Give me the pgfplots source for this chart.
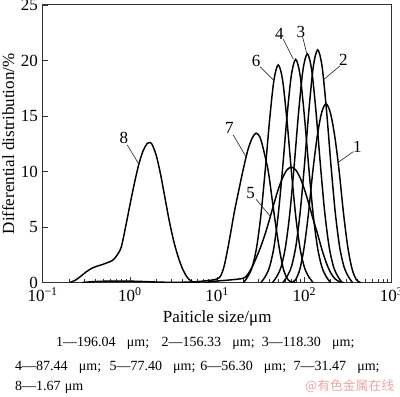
\documentclass[border=0pt]{standalone}
\usepackage{fontspec}
\setmainfont{Liberation Serif}
\newfontfamily\cjk{Noto Sans CJK SC}
\usepackage{pgfplots}
\pgfplotsset{compat=1.18}
\usepackage{pgfplotstable}
\definecolor{wm}{RGB}{236,165,165}

\pgfplotstableread{
lx y
1.847 0
1.897 0.25
1.947 1.2
1.997 3.2
2.047 6.3
2.097 10.1
2.147 13.2
2.197 15.3
2.247 16.1
2.297 15.3
2.347 13.2
2.397 10.1
2.447 6.3
2.497 3.2
2.547 1.2
2.597 0.25
2.647 0
}\curveA
\pgfplotstableread{
lx y
1.752 0
1.802 0.57
1.852 1.47
1.902 3.29
1.952 6.41
2.002 10.77
2.052 15.59
2.102 19.47
2.152 20.96
2.202 19.47
2.252 15.59
2.302 10.77
2.352 6.41
2.402 3.29
2.452 1.47
2.502 0.57
2.552 0
}\curveB
\pgfplotstableread{
lx y
1.633 0
1.683 0.56
1.733 1.44
1.783 3.23
1.833 6.30
1.883 10.59
1.933 15.33
1.983 19.14
2.033 20.6
2.083 19.14
2.133 15.33
2.183 10.59
2.233 6.30
2.283 3.23
2.333 1.44
2.383 0.56
2.433 0
}\curveC
\pgfplotstableread{
lx y
1.50 0
1.55 0.54
1.60 1.41
1.65 3.16
1.70 6.15
1.75 10.33
1.80 14.95
1.85 18.67
1.90 20.1
1.95 18.67
2.00 14.95
2.05 10.33
2.10 6.15
2.15 3.16
2.20 1.41
2.25 0.54
2.30 0
}\curveD
\pgfplotstableread{
lx y
0.85 0
1.00 0.15
1.15 0.25
1.30 0.4
1.35 0.75
1.40 1.4
1.45 2.28
1.50 3.25
1.55 4.4
1.60 5.7
1.65 7.1
1.70 8.4
1.75 9.45
1.80 10.15
1.849 10.4
1.90 10.15
1.95 9.45
2.00 8.4
2.05 7.1
2.10 5.7
2.15 4.4
2.20 3.0
2.25 1.8
2.30 0.9
2.35 0.35
2.40 0.1
2.45 0
}\curveE
\pgfplotstableread{
lx y
1.30 0
1.35 0.53
1.40 1.37
1.45 3.08
1.50 6.0
1.55 10.07
1.60 14.58
1.65 18.21
1.70 19.6
1.75 18.21
1.80 14.58
1.85 10.07
1.90 6.0
1.95 3.08
2.00 1.37
2.05 0.53
2.10 0
}\curveF
\pgfplotstableread{
lx y
-0.55 0
-0.45 0.08
-0.30 0.13
-0.10 0.15
0.10 0.12
0.30 0.06
0.50 0.03
0.70 0.06
0.85 0.15
0.95 0.25
1.00 0.35
1.04 0.6
1.08 1.5
1.12 3.0
1.166 5.0
1.20 6.5
1.25 8.4
1.293 10.0
1.35 11.9
1.40 13.0
1.445 13.46
1.49 13.1
1.53 12.0
1.586 10.0
1.63 7.5
1.674 5.0
1.72 2.7
1.76 1.2
1.80 0.4
1.84 0.1
1.90 0
}\curveG
\pgfplotstableread{
lx y
-0.69 0
-0.62 0.25
-0.56 0.6
-0.50 0.98
-0.44 1.28
-0.38 1.48
-0.32 1.62
-0.26 1.8
-0.20 2.0
-0.15 2.45
-0.10 3.2
-0.05 5.0
0.00 7.0
0.05 8.9
0.10 10.6
0.15 11.85
0.20 12.55
0.222 12.6
0.25 12.5
0.30 11.5
0.35 9.8
0.40 7.7
0.45 5.6
0.50 3.8
0.55 2.4
0.60 1.3
0.65 0.55
0.70 0.15
0.75 0.03
0.80 0
}\curveH

\newcommand\lab{\fontsize{12.75}{14}\selectfont}
\newcommand\itm[2]{#1—#2\hspace{0.8em}μm;}

\begin{document}
\begin{tikzpicture}
\useasboundingbox (-32pt,-85pt) rectangle (267.98pt,212pt);
\begin{axis}[
  at={(0pt,0pt)}, anchor=south west,
  scale only axis, width=261.75pt, height=208.3pt,
  xmode=log, xmin=0.1, xmax=1000, ymin=0, ymax=25,
  xtick={0.1,1,10,100,1000},
  xticklabels={10\textsuperscript{−1},10\textsuperscript{0},10\textsuperscript{1},10\textsuperscript{2},10\textsuperscript{3}},
  ytick={0,5,10,15,20,25},
  tick pos=left, tick align=inside,
  /pgf/number format/assume math mode=true,
  tick label style={font=\lab},
  label style={font=\lab},
  xlabel={Paiticle size/μm},
  ylabel={Differential distribution/\%},
  x label style={at={(axis description cs:0.5,-0.1426)},anchor=base},
  y label style={at={(axis description cs:-0.0821,0.5)},anchor=base},
  axis line style={black!80, line width=0.8pt},
  every tick/.style={black!80, line width=0.6pt},
  major tick length=4pt, minor tick length=2.5pt,
]
\addplot[black, line width=1.1pt, smooth] table[x expr=10^(\thisrow{lx}), y=y] {\curveA};
\addplot[black, line width=1.1pt, smooth] table[x expr=10^(\thisrow{lx}), y=y] {\curveB};
\addplot[black, line width=1.1pt, smooth] table[x expr=10^(\thisrow{lx}), y=y] {\curveC};
\addplot[black, line width=1.1pt, smooth] table[x expr=10^(\thisrow{lx}), y=y] {\curveD};
\addplot[black, line width=1.1pt, smooth] table[x expr=10^(\thisrow{lx}), y=y] {\curveE};
\addplot[black, line width=1.1pt, smooth] table[x expr=10^(\thisrow{lx}), y=y] {\curveF};
\addplot[black, line width=1.1pt, smooth] table[x expr=10^(\thisrow{lx}), y=y] {\curveG};
\addplot[black, line width=1.1pt, smooth] table[x expr=10^(\thisrow{lx}), y=y] {\curveH};

\node[font=\lab] at (rel axis cs:0.233,0.520) {8};
\draw[black!80, line width=0.5pt] (rel axis cs:0.2424,0.4959) -- (rel axis cs:0.2739,0.430);
\node[font=\lab] at (rel axis cs:0.5347,0.556) {7};
\draw[black!80, line width=0.5pt] (rel axis cs:0.5461,0.5319) -- (rel axis cs:0.5825,0.4537);
\node[font=\lab] at (rel axis cs:0.6112,0.7983) {6};
\draw[black!80, line width=0.5pt] (rel axis cs:0.6226,0.7778) -- (rel axis cs:0.6628,0.7274);
\node[font=\lab] at (rel axis cs:0.6779,0.8956) {4};
\draw[black!80, line width=0.5pt] (rel axis cs:0.6894,0.8765) -- (rel axis cs:0.7181,0.8045);
\node[font=\lab] at (rel axis cs:0.7401,0.9017) {3};
\draw[black!80, line width=0.5pt] (rel axis cs:0.745,0.8837) -- (rel axis cs:0.7564,0.8261);
\node[font=\lab] at (rel axis cs:0.8613,0.802) {2};
\draw[black!80, line width=0.5pt] (rel axis cs:0.8518,0.7803) -- (rel axis cs:0.806,0.7324);
\node[font=\lab] at (rel axis cs:0.9014,0.4897) {1};
\draw[black!80, line width=0.5pt] (rel axis cs:0.89,0.4717) -- (rel axis cs:0.847,0.4336);
\node[font=\lab] at (rel axis cs:0.596,0.3241) {5};
\draw[black!80, line width=0.5pt] (rel axis cs:0.6112,0.3003) -- (rel axis cs:0.6513,0.2402);
\end{axis}
\begin{scope}[every node/.style={anchor=base west, inner sep=0pt, font=\fontsize{10.5}{12}\selectfont}]
\node at (9.98pt,-47.5pt) {\itm{1}{196.04}};
\node at (89.1pt,-47.5pt) {\itm{2}{156.33}};
\node at (164.25pt,-47.5pt) {\itm{3}{118.30}};
\node at (-20.8pt,-65.85pt) {\itm{4}{87.44}};
\node at (49.95pt,-65.85pt) {\itm{5}{77.40}};
\node at (118.0pt,-65.85pt) {\itm{6}{56.30}};
\node at (187.95pt,-65.85pt) {\itm{7}{31.47}};
\node at (-20.8pt,-80.5pt) {8—1.67\hspace{0.3em}μm};
\node[text=wm, font=\cjk\fontsize{9.6}{11}\selectfont] at (196.7pt,-80.5pt) {@有色金属在线};
\end{scope}
\end{tikzpicture}
\end{document}
